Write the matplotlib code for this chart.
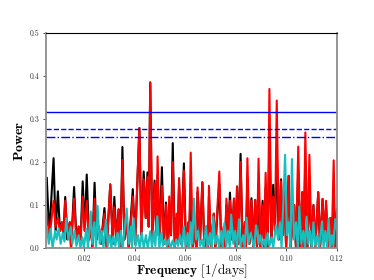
import matplotlib
matplotlib.use("Agg")
import matplotlib.pyplot as plt

# Red / black periodograms share the same frequency sampling (peaks and troughs)
freq_rb = [0.0053, 0.0063, 0.0080, 0.0088, 0.0097, 0.0105, 0.0113, 0.0119, 0.0126, 0.0134,
           0.0144, 0.0149, 0.0161, 0.0171, 0.0179, 0.0187, 0.0195, 0.0203, 0.0211, 0.0220,
           0.0228, 0.0233, 0.0242, 0.0250, 0.0259, 0.0267, 0.0281, 0.0290, 0.0304, 0.0314,
           0.0320, 0.0329, 0.0337, 0.0344, 0.0352, 0.0360, 0.0369, 0.0377, 0.0393, 0.0402,
           0.0419, 0.0427, 0.0436, 0.0444, 0.0451, 0.0456, 0.0462, 0.0470, 0.0479, 0.0486,
           0.0491, 0.0499, 0.0508, 0.0516, 0.0524, 0.0532, 0.0537, 0.0544, 0.0551, 0.0559,
           0.0566, 0.0570, 0.0576, 0.0584, 0.0595, 0.0603, 0.0613, 0.0615, 0.0622, 0.0630,
           0.0640, 0.0644, 0.0649, 0.0659, 0.0668, 0.0676, 0.0685, 0.0690, 0.0694, 0.0702,
           0.0713, 0.0719, 0.0735, 0.0743, 0.0753, 0.0757, 0.0763, 0.0771, 0.0777, 0.0785,
           0.0793, 0.0800, 0.0805, 0.0811, 0.0819, 0.0827, 0.0836, 0.0840, 0.0846, 0.0854,
           0.0862, 0.0869, 0.0877, 0.0884, 0.0890, 0.0898, 0.0906, 0.0912, 0.0918, 0.0926,
           0.0933, 0.0941, 0.0948, 0.0955, 0.0962, 0.0970, 0.0979, 0.0985, 0.0992, 0.0999,
           0.1009, 0.1016, 0.1031, 0.1038, 0.1047, 0.1055, 0.1063, 0.1068, 0.1075, 0.1083,
           0.1091, 0.1099, 0.1107, 0.1114, 0.1126, 0.1133, 0.1143, 0.1150, 0.1157, 0.1164,
           0.1174, 0.1179, 0.1187, 0.1193, 0.1200]
red = [0.080, 0.020, 0.110, 0.050, 0.070, 0.040, 0.060, 0.030, 0.110, 0.040,
       0.060, 0.000, 0.115, 0.010, 0.050, 0.020, 0.120, 0.040, 0.110, 0.020,
       0.060, 0.000, 0.115, 0.020, 0.050, 0.010, 0.080, 0.000, 0.148, 0.010,
       0.095, 0.020, 0.090, 0.000, 0.205, 0.020, 0.060, 0.000, 0.120, 0.010,
       0.279, 0.030, 0.160, 0.070, 0.165, 0.050, 0.385, 0.020, 0.150, 0.030,
       0.213, 0.020, 0.145, 0.010, 0.100, 0.000, 0.120, 0.030, 0.200, 0.000,
       0.080, 0.020, 0.163, 0.010, 0.180, 0.000, 0.060, 0.000, 0.222, 0.000,
       0.060, 0.000, 0.141, 0.020, 0.153, 0.000, 0.050, 0.000, 0.145, 0.000,
       0.080, 0.000, 0.178, 0.000, 0.050, 0.000, 0.115, 0.040, 0.110, 0.020,
       0.115, 0.000, 0.143, 0.010, 0.200, 0.000, 0.060, 0.000, 0.209, 0.010,
       0.110, 0.000, 0.112, 0.000, 0.208, 0.000, 0.100, 0.000, 0.175, 0.000,
       0.370, 0.020, 0.120, 0.040, 0.343, 0.020, 0.155, 0.030, 0.143, 0.000,
       0.168, 0.000, 0.100, 0.000, 0.236, 0.000, 0.130, 0.000, 0.269, 0.000,
       0.217, 0.000, 0.100, 0.000, 0.130, 0.000, 0.114, 0.020, 0.110, 0.000,
       0.070, 0.000, 0.204, 0.000, 0.090]
black = [0.163, 0.030, 0.209, 0.040, 0.132, 0.040, 0.060, 0.030, 0.119, 0.020,
         0.060, 0.000, 0.142, 0.010, 0.050, 0.020, 0.155, 0.040, 0.171, 0.020,
         0.060, 0.000, 0.152, 0.020, 0.050, 0.010, 0.093, 0.000, 0.148, 0.010,
         0.119, 0.020, 0.090, 0.000, 0.235, 0.020, 0.060, 0.000, 0.137, 0.010,
         0.279, 0.030, 0.178, 0.070, 0.176, 0.050, 0.385, 0.020, 0.157, 0.030,
         0.170, 0.020, 0.188, 0.010, 0.106, 0.000, 0.100, 0.030, 0.244, 0.000,
         0.070, 0.020, 0.150, 0.010, 0.197, 0.000, 0.060, 0.000, 0.150, 0.000,
         0.060, 0.000, 0.130, 0.020, 0.153, 0.000, 0.050, 0.000, 0.120, 0.000,
         0.080, 0.000, 0.150, 0.000, 0.050, 0.000, 0.100, 0.040, 0.129, 0.020,
         0.115, 0.000, 0.143, 0.010, 0.219, 0.000, 0.060, 0.000, 0.160, 0.010,
         0.116, 0.000, 0.112, 0.000, 0.150, 0.000, 0.110, 0.000, 0.140, 0.000,
         0.260, 0.020, 0.147, 0.040, 0.230, 0.020, 0.160, 0.030, 0.143, 0.000,
         0.168, 0.000, 0.100, 0.000, 0.180, 0.000, 0.130, 0.000, 0.200, 0.000,
         0.150, 0.000, 0.100, 0.000, 0.130, 0.000, 0.114, 0.020, 0.100, 0.000,
         0.070, 0.000, 0.115, 0.000, 0.090]

freq_c = [0.0053, 0.0061, 0.0068, 0.0076, 0.0086, 0.0092, 0.0100, 0.0108, 0.0116, 0.0123,
          0.0130, 0.0138, 0.0148, 0.0154, 0.0163, 0.0170, 0.0179, 0.0186, 0.0194, 0.0200,
          0.0209, 0.0216, 0.0227, 0.0233, 0.0241, 0.0248, 0.0254, 0.0262, 0.0270, 0.0277,
          0.0287, 0.0294, 0.0302, 0.0308, 0.0316, 0.0324, 0.0332, 0.0339, 0.0346, 0.0353,
          0.0369, 0.0377, 0.0385, 0.0390, 0.0396, 0.0404, 0.0414, 0.0420, 0.0429, 0.0436,
          0.0445, 0.0452, 0.0462, 0.0469, 0.0476, 0.0482, 0.0490, 0.0498, 0.0506, 0.0512,
          0.0520, 0.0527, 0.0535, 0.0541, 0.0551, 0.0557, 0.0565, 0.0572, 0.0580, 0.0588,
          0.0595, 0.0602, 0.0610, 0.0616, 0.0622, 0.0628, 0.0635, 0.0643, 0.0651, 0.0659,
          0.0667, 0.0673, 0.0682, 0.0689, 0.0698, 0.0705, 0.0711, 0.0719, 0.0727, 0.0734,
          0.0743, 0.0748, 0.0755, 0.0763, 0.0769, 0.0776, 0.0782, 0.0790, 0.0798, 0.0805,
          0.0813, 0.0819, 0.0829, 0.0835, 0.0843, 0.0850, 0.0859, 0.0865, 0.0872, 0.0880,
          0.0890, 0.0897, 0.0904, 0.0912, 0.0918, 0.0926, 0.0933, 0.0942, 0.0948, 0.0959,
          0.0967, 0.0975, 0.0981, 0.0995, 0.1002, 0.1009, 0.1016, 0.1022, 0.1030, 0.1038,
          0.1045, 0.1051, 0.1059, 0.1067, 0.1074, 0.1080, 0.1087, 0.1093, 0.1100, 0.1107,
          0.1114, 0.1122, 0.1129, 0.1141, 0.1147, 0.1154, 0.1161, 0.1167, 0.1174, 0.1180,
          0.1186, 0.1192, 0.1200]
cyan = [0.050, 0.010, 0.045, 0.000, 0.040, 0.020, 0.046, 0.010, 0.035, 0.015,
        0.069, 0.020, 0.050, 0.010, 0.040, 0.005, 0.030, 0.000, 0.025, 0.000,
        0.045, 0.000, 0.085, 0.010, 0.060, 0.000, 0.098, 0.010, 0.040, 0.000,
        0.066, 0.005, 0.030, 0.000, 0.027, 0.005, 0.035, 0.000, 0.040, 0.000,
        0.092, 0.010, 0.050, 0.000, 0.069, 0.005, 0.030, 0.000, 0.035, 0.000,
        0.030, 0.000, 0.039, 0.000, 0.040, 0.005, 0.074, 0.000, 0.035, 0.005,
        0.020, 0.005, 0.020, 0.000, 0.018, 0.000, 0.020, 0.005, 0.030, 0.000,
        0.050, 0.005, 0.035, 0.000, 0.060, 0.010, 0.115, 0.020, 0.040, 0.005,
        0.020, 0.000, 0.050, 0.005, 0.035, 0.000, 0.073, 0.010, 0.030, 0.000,
        0.040, 0.000, 0.058, 0.005, 0.040, 0.000, 0.078, 0.010, 0.040, 0.000,
        0.067, 0.005, 0.030, 0.000, 0.071, 0.010, 0.035, 0.020, 0.000, 0.053,
        0.010, 0.030, 0.005, 0.020, 0.000, 0.035, 0.005, 0.025, 0.000, 0.053,
        0.020, 0.060, 0.000, 0.217, 0.030, 0.060, 0.000, 0.207, 0.020, 0.060,
        0.000, 0.097, 0.010, 0.040, 0.000, 0.073, 0.010, 0.040, 0.000, 0.060,
        0.005, 0.030, 0.000, 0.062, 0.000, 0.040, 0.000, 0.068, 0.000, 0.030,
        0.005, 0.067, 0.040]

# False-alarm thresholds
fap_levels = [0.316, 0.276, 0.258]
fap_styles = ['-', '--', '-.']

xticks = [0.02, 0.04, 0.06, 0.08, 0.10, 0.12]
yticks = [0.0, 0.1, 0.2, 0.3, 0.4, 0.5]

plt.rcParams['mathtext.fontset'] = 'cm'

fig = plt.figure(figsize=(3.74, 2.8), dpi=100)
ax = fig.add_axes([0.123, 0.114, 0.778, 0.768])

ax.plot(freq_rb, black, color='black', lw=1.5)
ax.plot(freq_rb, red, color='#ff0000', lw=1.5)
ax.plot(freq_c, cyan, color='#17bfbf', lw=1.5)
for lvl, ls in zip(fap_levels, fap_styles):
    ax.axhline(lvl, color='#0000ff', lw=1.0, ls=ls)

ax.set_xlim(0.005, 0.12)
ax.set_ylim(0.0, 0.5)
ax.set_xticks(xticks)
ax.set_yticks(yticks)
ax.set_xticklabels(['%.2f' % t for t in xticks], fontfamily='cmr10', fontsize=5.5)
ax.set_yticklabels(['%.1f' % t for t in yticks], fontfamily='cmr10', fontsize=5.5)
ax.tick_params(direction='out', length=2.5, width=0.6, pad=2, colors='#333333')

for side in ['left', 'right', 'bottom']:
    ax.spines[side].set_color('#8c8c8c')
    ax.spines[side].set_linewidth(1.3)
ax.spines['top'].set_color('black')
ax.spines['top'].set_linewidth(0.8)

ax.set_xlabel(r'$\mathbf{Frequency}\ [1/\mathrm{days}]$', fontsize=9.5, labelpad=-1)
ax.set_ylabel(r'$\mathbf{Power}$', fontsize=10, labelpad=3)

fig.savefig('out.png', dpi=100)
